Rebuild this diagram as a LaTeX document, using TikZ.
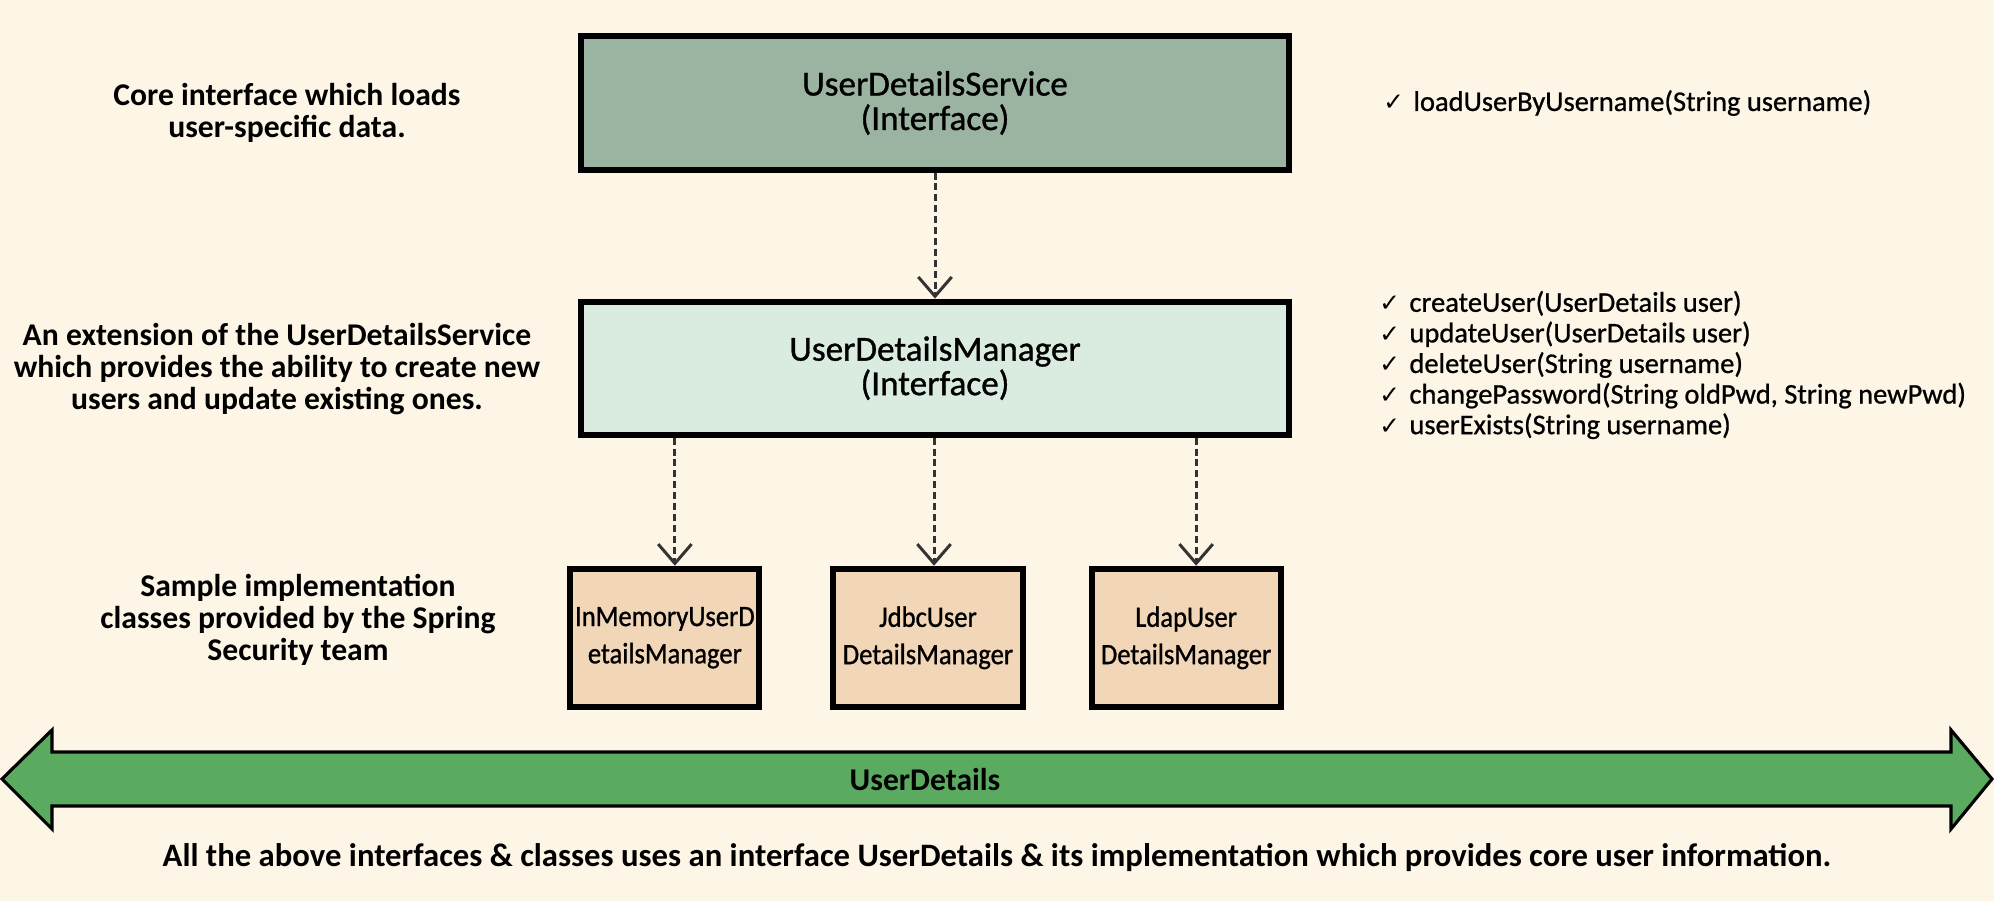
\documentclass[tikz,border=0pt]{standalone}
\usepackage{fontspec}
\setmainfont{Carlito}
\newfontfamily\symfont{DejaVu Sans}
\newfontfamily\titlefont{Carlito}[FakeBold=1]
\newfontfamily\implfont{Carlito}[FakeStretch=0.9, FakeBold=1]
\newfontfamily\methfont{Carlito}[FakeBold=0.8]
\usetikzlibrary{positioning, arrows.meta}

\definecolor{bgcream}{HTML}{FDF6E6}
\definecolor{svcgreen}{HTML}{9BB4A2}
\definecolor{mgrmint}{HTML}{DAEBDF}
\definecolor{implpeach}{HTML}{F2D6B8}
\definecolor{udgreen}{HTML}{5AAB60}
\definecolor{depgray}{HTML}{333333}

\newcommand{\tk}{\makebox[0.3cm][l]{\symfont\fontsize{7}{7}\selectfont ✓}}

\begin{document}
\begin{tikzpicture}[x=0.01cm, y=-0.01cm,
    iface/.style = {draw, line width=1.7pt, minimum width=7.08cm, minimum height=1.33cm, align=center, font=\titlefont\fontsize{10}{9.8}\selectfont},
    impl/.style = {draw, line width=1.7pt, fill=implpeach, minimum width=1.89cm, minimum height=1.38cm, inner sep=1pt, align=center, font=\implfont\fontsize{8.4}{10.6}\selectfont},
    note/.style = {align=center, font=\bfseries\fontsize{9}{9.2}\selectfont},
    meth/.style = {align=left, anchor=west, font=\methfont\fontsize{8.1}{8.7}\selectfont},
    dep/.style = {draw=depgray, line width=0.85pt, dash pattern=on 2pt off 1.1pt, -{Straight Barb[length=5.5pt, width=9.5pt]}}]
    \fill[bgcream] (0,0) rectangle (1994,901);
    \useasboundingbox (0,0) rectangle (1994,901);

    \node[iface, fill=svcgreen] (svc) at (935,103) {UserDetailsService\\(Interface)};
    \node[iface, fill=mgrmint, below=1.26cm of svc] (mgr) {UserDetailsManager\\(Interface)};
    \node[impl, below=1.28cm of mgr, xshift=-0.07cm] (jdbc) {JdbcUser\\DetailsManager};
    \node[impl, left=0.68cm of jdbc] (inmem) {InMemoryUserD\\etailsManager};
    \node[impl, right=0.63cm of jdbc] (ldap) {LdapUser\\DetailsManager};

    \draw[dep] (svc) -- (mgr);
    \foreach \n/\dx in {inmem/0.1, jdbc/0.06, ldap/0.1}
        \draw[dep] ([xshift=\dx cm]mgr.south -| \n.north) -- ([xshift=\dx cm]\n.north);

    \node[note] (coretxt) at (287,113) {Core interface which loads\\user-specific data.};
    \node[note] (exttxt) at (277,369) {An extension of the UserDetailsService\\which provides the ability to create new\\users and update existing ones.};
    \node[note] (sampletxt) at (298,620) {Sample implementation\\classes provided by the Spring\\Security team};

    \node[meth] (loadm) at (1371,103) {\tk loadUserByUsername(String username)};
    \node[meth] (mgrm) at (1367,365) {\tk createUser(UserDetails user)\\
        \tk updateUser(UserDetails user)\\
        \tk deleteUser(String username)\\
        \tk changePassword(String oldPwd, String newPwd)\\
        \tk userExists(String username)};

    % shared UserDetails band
    \draw[line width=0.9pt, fill=udgreen] (2,779) -- (52,730) -- (52,752) -- (1951,752) -- (1951,730)
        -- (1992,779) -- (1951,829) -- (1951,806) -- (52,806) -- (52,829) -- cycle;
    \node[font=\bfseries\fontsize{9}{9}\selectfont] (udlabel) at (925,780) {UserDetails};
    \node[font=\bfseries\fontsize{9.3}{9.3}\selectfont] (bottomtxt) at (997,858) {All the above interfaces \& classes uses an interface UserDetails \& its implementation which provides core user information.};
\end{tikzpicture}
\end{document}
